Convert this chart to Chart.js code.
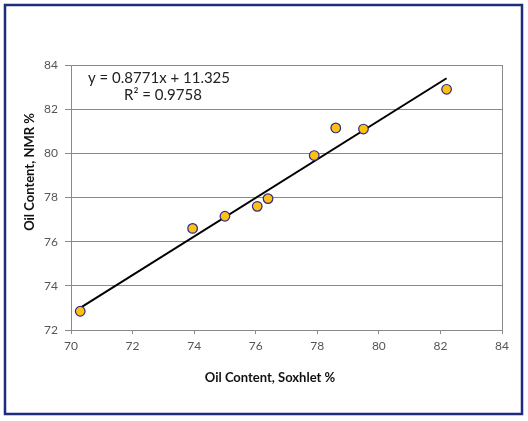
<!DOCTYPE html>
<html>
<head>
<meta charset="utf-8">
<script src="https://cdn.jsdelivr.net/npm/chart.js@4.4.1/dist/chart.umd.min.js"></script>
<style>
  html, body { margin: 0; padding: 0; background: #fff; }
  #wrap { position: relative; width: 528px; height: 421px; }
</style>
</head>
<body>
<div id="wrap"><canvas id="oilChart" width="528" height="421"></canvas></div>
<script>
// Oil content measured by Soxhlet (x) vs NMR (y)
const soxhlet = [70.3, 73.95, 75.0, 76.05, 76.4, 77.9, 78.6, 79.5, 82.2];
const nmr = [72.85, 76.6, 77.15, 77.6, 77.95, 79.9, 81.15, 81.1, 82.9];
// trendline end points
const trendX = [70.3, 82.2];
const trendY = [73.0, 83.4];
const xTicks = [70, 72, 74, 76, 78, 80, 82, 84];
const yTicks = [72, 74, 76, 78, 80, 82, 84];

const gridGray = '#8a8a8a';

const decorations = {
    id: 'decorations',
    beforeDraw(chart) {
        const c = chart.ctx;
        c.save();
        c.fillStyle = '#fff';
        c.fillRect(0, 0, chart.width, chart.height);
        c.restore();
    },
    afterDraw(chart) {
        const c = chart.ctx;
        c.save();
        // outer frame
        c.strokeStyle = '#1f2b7b';
        c.lineWidth = 2.5;
        c.strokeRect(5, 5, 517, 409);

        // axis titles
        c.fillStyle = '#111';
        c.font = 'bold 13px Lato, "Liberation Sans", sans-serif';
        c.textAlign = 'center';
        c.textBaseline = 'middle';
        c.fillText('Oil Content, Soxhlet %', 270, 378);
        c.translate(30, 172);
        c.rotate(-Math.PI / 2);
        c.fillText('Oil Content, NMR %', 0, 0);
        c.restore();

        // regression label
        c.save();
        c.fillStyle = '#222';
        c.font = '15px Lato, "Liberation Sans", sans-serif';
        c.textAlign = 'center';
        c.textBaseline = 'middle';
        c.fillText('y = 0.8771x + 11.325', 159, 78);
        c.fillText('R\u00B2 = 0.9758', 163, 95);
        c.restore();
    }
};

const ctx = document.getElementById('oilChart').getContext('2d');
const oilChart = new Chart(ctx, {
    type: 'scatter',
    data: {
        datasets: [{
            type: 'line',
            data: trendX.map((x, i) => ({ x: x, y: trendY[i] })),
            borderColor: '#000',
            borderWidth: 2,
            pointRadius: 0,
            fill: false,
            order: 2
        }, {
            data: soxhlet.map((x, i) => ({ x: x, y: nmr[i] })),
            backgroundColor: '#ffc014',
            borderColor: '#2c2a86',
            borderWidth: 1.2,
            pointRadius: 4.8,
            order: 1
        }]
    },
    options: {
        responsive: false,
        animation: false,
        layout: { padding: { top: 65, right: 26, left: 0, bottom: 0 } },
        plugins: { legend: { display: false }, tooltip: { enabled: false } },
        scales: {
            x: {
                type: 'linear',
                min: 70,
                max: 84,
                afterBuildTicks: s => { s.ticks = xTicks.map(v => ({ value: v })); },
                afterFit: s => { s.height = 91; },
                ticks: {
                    color: '#555',
                    padding: 5,
                    font: { family: 'Lato, "Liberation Sans", sans-serif', size: 12 }
                },
                grid: {
                    color: c => c.tick && c.tick.value === 84 ? gridGray : 'rgba(0,0,0,0)',
                    tickColor: gridGray,
                    tickLength: 4,
                    lineWidth: 1
                },
                border: { display: true, color: gridGray, width: 1 }
            },
            y: {
                type: 'linear',
                min: 72,
                max: 84,
                afterBuildTicks: s => { s.ticks = yTicks.map(v => ({ value: v })); },
                afterFit: s => { s.width = 71; },
                ticks: {
                    color: '#555',
                    padding: 7,
                    font: { family: 'Lato, "Liberation Sans", sans-serif', size: 12 }
                },
                grid: {
                    color: gridGray,
                    tickLength: 6,
                    lineWidth: 1
                },
                border: { display: true, color: gridGray, width: 1 }
            }
        }
    },
    plugins: [decorations]
});
</script>
</body>
</html>
